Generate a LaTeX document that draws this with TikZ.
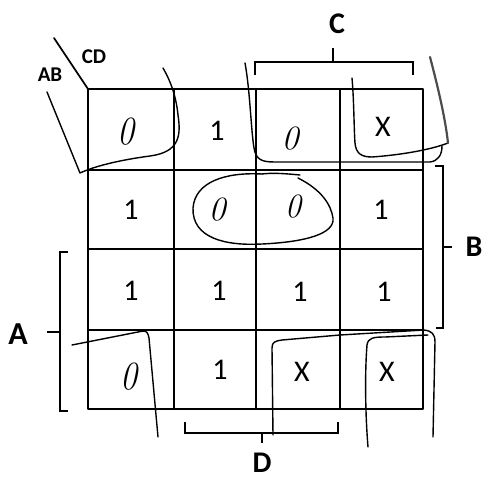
\documentclass[tikz,border=0pt]{standalone}
\usepackage{fontspec}
\setsansfont{Carlito}
\begin{document}
\begin{tikzpicture}[x=1pt,y=-1pt,
  gridline/.style={line width=2.4pt,line cap=round,line join=round},
  bracketline/.style={line width=1.8pt,line join=miter},
  loopline/.style={line width=1.4pt,line cap=round,line join=round},
  val/.style={font=\sffamily\fontsize{30}{30}\selectfont,inner sep=0pt},
  hand/.style={font=\rmfamily\itshape\fontsize{40}{40}\selectfont,inner sep=0pt},
  lbl/.style={font=\sffamily\bfseries\fontsize{30}{30}\selectfont,inner sep=0pt},
  hdr/.style={font=\sffamily\bfseries\fontsize{21}{21}\selectfont,inner sep=0pt}]
\useasboundingbox (0,0) rectangle (491,477);
% grid
\coordinate (g00) at (88,89);
\coordinate (g11) at (423,409);
\draw[gridline] (g00) rectangle (g11);
\foreach \x in {174,256,340} \draw[gridline] (\x,89) -- (\x,409);
\foreach \y in {170,249,330} \draw[gridline] (88,\y) -- (423,\y);
% header diagonal
\coordinate (dg) at (54,38);
\draw[gridline,line width=1.8pt] (dg) -- (g00);
\node[hdr] (cd) at (94,57) {CD};
\node[hdr] (ab) at (50,75) {AB};
% values row 0
\node[hand] (v00) at (126,132) {\scalebox{0.85}[1]{0}};
\node[val] (v01) at (217,131) {1};
\node[hand] (v02) at (290,139) {\scalebox{0.85}[0.85]{0}};
\node[val] (v03) at (383,127) {X};
% row 1
\node[val] (v10) at (131,210) {1};
\node[hand] (v11) at (217,210) {\scalebox{0.85}[0.85]{0}};
\node[hand] (v12) at (293,207) {\scalebox{0.8}[0.85]{0}};
\node[val] (v13) at (381,210) {1};
% row 2
\node[val] (v20) at (131,291) {1};
\node[val] (v21) at (219,291) {1};
\node[val] (v22) at (300,292) {1};
\node[val] (v23) at (384,292) {1};
% row 3
\node[hand] (v30) at (129,377) {\scalebox{0.85}[1]{0}};
\node[val] (v31) at (220,370) {1};
\node[val] (v32) at (302,372) {X};
\node[val] (v33) at (387,372) {X};
% labels
\node[lbl] (lc) at (337,24) {C};
\node[lbl] (lb) at (474,247) {B};
\node[lbl,font=\sffamily\bfseries\fontsize{32}{32}\selectfont] (la) at (18,334) {A};
\node[lbl] (ld) at (262,463) {D};
% brackets
\draw[bracketline] (255,75) -- (255,62) -- (413,62) -- (413,75);
\draw[bracketline] (333,62) -- (333,48);
\draw[bracketline] (435,166) -- (443,166) -- (443,328) -- (436,328);
\draw[bracketline] (443,247) -- (452,247);
\draw[bracketline] (68,252) -- (60,252) -- (60,411) -- (68,411);
\draw[bracketline] (60,332) -- (47,332);
\draw[bracketline] (185,422) -- (185,433) -- (338,433) -- (338,422);
\draw[bracketline] (262,433) -- (262,443);
% loops
\draw[loopline] (47,92) -- (80,173) .. controls (95,166) and (120,160) .. (150,156)
  .. controls (180,152) and (181,135) .. (178,115) .. controls (176,95) and (170,80) .. (163,68);
\draw[loopline] (245,63) .. controls (250,90) and (251,130) .. (254,148)
  .. controls (256,160) and (262,162) .. (275,162) -- (430,162)
  .. controls (438,161) and (442,155) .. (442,146);
\draw[loopline] (352,78) .. controls (354,100) and (354,130) .. (355,143)
  .. controls (356,154) and (362,157) .. (372,157) .. controls (400,155) and (430,150) .. (448,143);
\draw[loopline,line width=2.2pt,black!70] (430,57) .. controls (436,80) and (445,115) .. (448,143);
\draw[loopline] (262,174) .. controls (225,172) and (195,182) .. (193,208)
  .. controls (192,238) and (225,246) .. (262,244)
  .. controls (305,242) and (335,234) .. (333,218)
  .. controls (331,205) and (322,190) .. (298,178);
\draw[loopline] (300,175) .. controls (280,173) and (270,173) .. (262,174);
\draw[loopline] (72,345) -- (143,331) .. controls (147,331) and (148,333) .. (149,338) -- (158,437);
\draw[loopline] (273,435) -- (272,348) .. controls (272,342) and (275,341) .. (282,340)
  -- (340,335) -- (424,330) .. controls (432,331) and (435,334) .. (435,342) -- (433,437);
\draw[loopline] (368,447) .. controls (365,410) and (365,370) .. (367,345)
  .. controls (368,338) and (373,337) .. (385,337) -- (428,335);
\end{tikzpicture}
\end{document}
